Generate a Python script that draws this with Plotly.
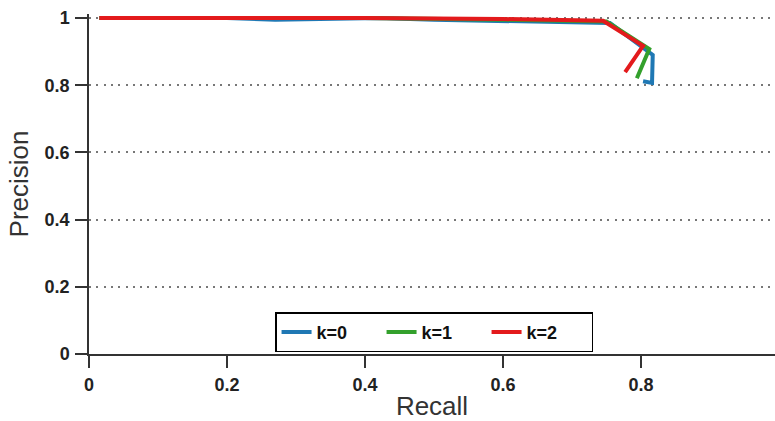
import plotly.graph_objects as go

recall_k0 = [0.015, 0.1, 0.2, 0.27, 0.35, 0.42, 0.5, 0.6, 0.7, 0.755, 0.817, 0.816, 0.803]
prec_k0 = [1.0, 1.0, 1.0, 0.995, 0.997, 1.0, 0.995, 0.99, 0.987, 0.985, 0.89, 0.807, 0.812]

recall_k1 = [0.015, 0.2, 0.4, 0.6, 0.75, 0.812, 0.794]
prec_k1 = [1.0, 1.0, 1.0, 0.995, 0.99, 0.908, 0.821]

recall_k2 = [0.015, 0.2, 0.4, 0.6, 0.745, 0.803, 0.777]
prec_k2 = [1.0, 1.0, 1.0, 0.997, 0.992, 0.917, 0.839]

names = ["k=0", "k=1", "k=2"]
colors = ["#1f78b4", "#33a02c", "#e31a1c"]

x_ticks = [0, 0.2, 0.4, 0.6, 0.8, 1.0]
x_labels = ["0", "0.2", "0.4", "0.6", "0.8", "1"]
y_ticks = [0, 0.2, 0.4, 0.6, 0.8, 1.0]
y_labels = ["0", "0.2", "0.4", "0.6", "0.8", "1"]

fig = go.Figure()
for xs, ys, n, c in zip([recall_k0, recall_k1, recall_k2], [prec_k0, prec_k1, prec_k2], names, colors):
    fig.add_trace(go.Scatter(x=xs, y=ys, mode="lines", name=n,
                             line=dict(color=c, width=4)))

FONT = "Liberation Sans, Arial, Helvetica, sans-serif"
axis_common = dict(showline=True, linecolor="#333333", linewidth=1.5,
                   ticks="outside", ticklen=12, tickwidth=1.5, tickcolor="#333333",
                   tickfont=dict(family=FONT, size=18, color="#222222", weight="bold"),
                   zeroline=False, mirror=False, automargin=False)

fig.update_layout(
    width=775, height=421,
    margin=dict(l=89, r=0, t=14, b=67),
    plot_bgcolor="white", paper_bgcolor="white",
    font=dict(family=FONT, color="#222222"),
    xaxis=dict(range=[0, 0.9942], tickvals=x_ticks, ticktext=x_labels, showgrid=False,
               ticklabelstandoff=2,
               title=dict(text="Recall", font=dict(size=26, color="#333333"), standoff=20), **axis_common),
    yaxis=dict(range=[0, 1.012], tickvals=y_ticks, ticktext=y_labels, showgrid=True,
               gridcolor="#777777", griddash="2px,5.3px", gridwidth=1.5,
               ticklabelstandoff=2,
               title=dict(text="Precision", font=dict(size=26, color="#333333"), standoff=9), **axis_common),
    legend=dict(orientation="h", x=0.503, y=0.005, xanchor="center", yanchor="bottom",
                bordercolor="black", borderwidth=1.5, bgcolor="white",
                font=dict(size=18, weight="bold", color="#111111"),
                entrywidth=60, entrywidthmode="pixels"),
    showlegend=True,
)

fig.write_html("out.html")
